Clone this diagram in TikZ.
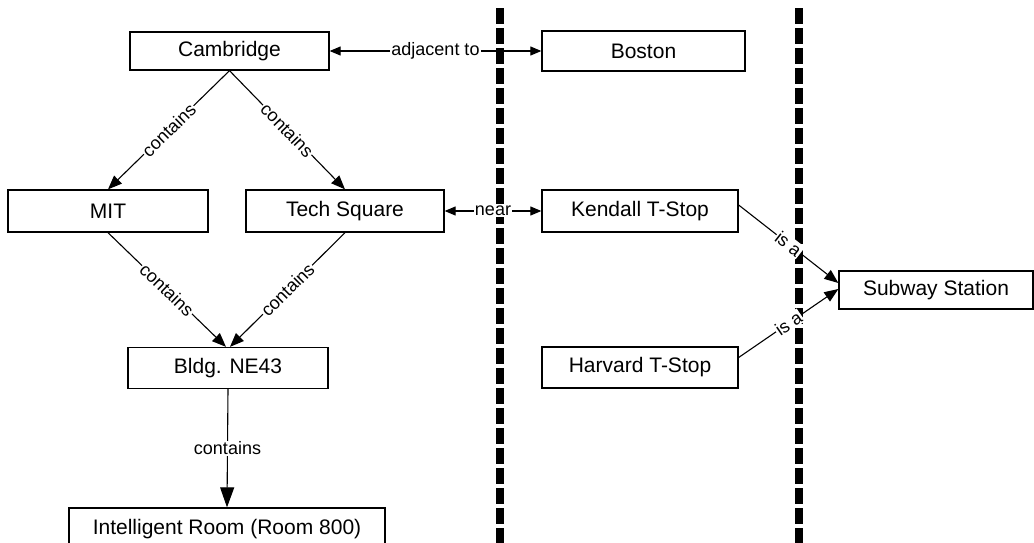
\documentclass[tikz,border=0pt]{standalone}
\usepackage{fontspec}
\setmainfont{Liberation Sans}
\usetikzlibrary{arrows.meta}
\begin{document}
\begin{tikzpicture}[x=1pt,y=-1pt,
  box/.style={draw=black,line width=1.3pt,fill=white,minimum height=40pt,inner sep=0pt,font=\fontsize{21}{23}\selectfont},
  rel/.style={line width=1.1pt,-{Triangle[length=14pt,width=11pt]}},
  birel/.style={line width=1.1pt,{Triangle[length=11pt,width=9pt]}-{Triangle[length=11pt,width=9pt]}},
  lbl/.style={fill=white,inner sep=1pt,font=\fontsize{18}{20}\selectfont},
  divider/.style={line width=8pt,dash pattern=on 16pt off 4pt}]
\useasboundingbox[fill=white] (0,0) rectangle (1034,542);
% dividers
\draw[divider] (500,8) -- (500,560);
\draw[divider] (799,8) -- (799,560);
% nodes
\node[box,minimum width=199pt,minimum height=38pt] (cam) at (229.5,51) {Cambridge};
\node[box,minimum width=203pt] (bos) at (643.5,51) {Boston};
\node[box,minimum width=200pt,minimum height=42pt] (mit) at (108,211) {MIT};
\node[box,minimum width=198pt,minimum height=42pt] (tech) at (345,211) {Tech Square};
\node[box,minimum width=196pt,minimum height=42pt] (ken) at (640,211) {Kendall T-Stop};
\node[box,minimum width=194pt,minimum height=38pt] (sub) at (936,290) {Subway Station};
\node[box,minimum width=196pt,minimum height=41pt] (har) at (640,367.5) {Harvard T-Stop};
\node[box,minimum width=200pt,minimum height=41pt] (bldg) at (228,368) {Bldg. NE43};
\node[box,minimum width=316pt,minimum height=44pt] (ir) at (227,530) {\raisebox{7pt}{Intelligent Room (Room 800)}};
% edges
\draw[birel] (cam.east) -- node[lbl] {adjacent to} (bos.west);
\draw[birel] (tech.east) -- node[lbl] {near} (ken.west);
\draw[rel] (cam.south) -- node[lbl,sloped] {contains} (mit.north);
\draw[rel] (cam.south) -- node[lbl,sloped] {contains} (tech.north);
\draw[rel] (mit.south) -- node[lbl,sloped] {contains} ([xshift=-2pt]bldg.north);
\draw[rel] (tech.south) -- node[lbl,sloped] {contains} ([xshift=2pt]bldg.north);
\draw[line width=1.1pt,-{Triangle[length=20pt,width=14pt]}] (bldg.south) -- node[lbl] {contains} (ir.north);
\draw[rel] ([yshift=6pt]ken.east) -- node[lbl,sloped] {is a} ([yshift=7pt]sub.west);
\draw[rel] ([yshift=10pt]har.east) -- node[lbl,sloped] {is a} ([yshift=1pt]sub.west);
\end{tikzpicture}
\end{document}
